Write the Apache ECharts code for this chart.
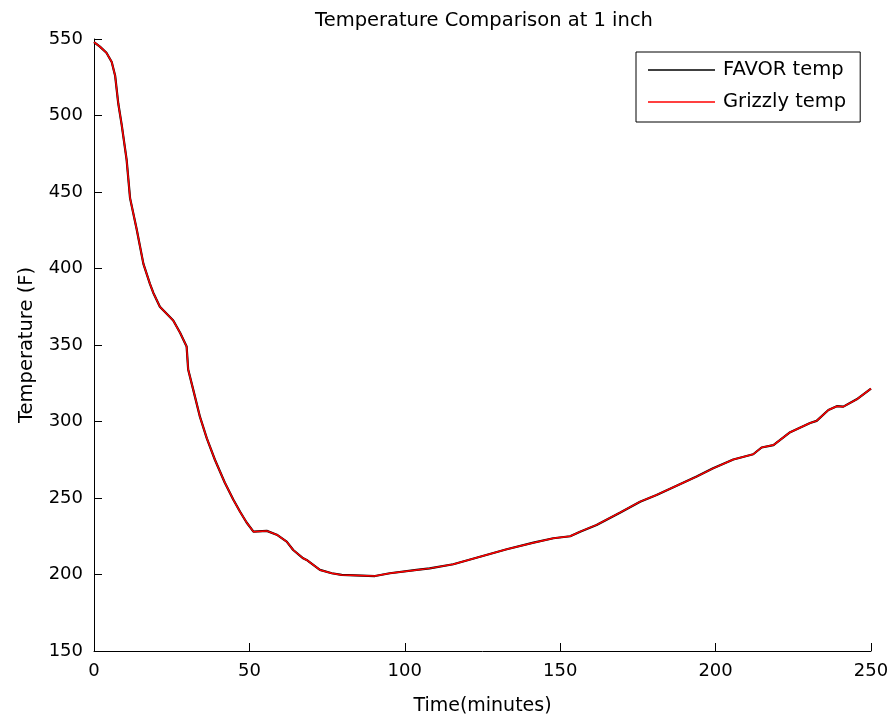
<!DOCTYPE html>
<html lang="en">
<head>
    <meta charset="utf-8"/>
    <title>Temperature Comparison at 1 inch</title>
    <script src="https://cdn.jsdelivr.net/npm/echarts@6/dist/echarts.min.js"></script>
    <style>
        html, body { margin: 0; padding: 0; background: #fff; }
        #main { width: 890px; height: 719px; }
    </style>
</head>
<body>
<div id="main"></div>
<script>
    // time in minutes
    var timeMin = [0, 1.9, 4, 5.7, 6.8, 7.8, 8.9, 10.5, 11.6, 13.7, 15.9, 18, 19.1, 21.2, 25.5, 27.7,
        29.8, 30.3, 31.9, 34.1, 36.3, 38.9, 42.1, 44.8, 47, 49.1, 51.3, 55.6, 58.8, 62, 64.1, 67.3,
        68.4, 72.7, 76.5, 79.7, 90.4, 95.2, 103.8, 108, 115.6, 124.2, 132.8, 141.4, 147.8, 153.2,
        156.4, 161.7, 169.2, 175.7, 181, 188.5, 193.9, 199.2, 205.7, 212.1, 214.8, 218.6, 224,
        230.4, 232.5, 236.3, 239, 241.1, 245.4, 250];
    var favorTemp = [548, 545, 541, 535, 526, 508, 494, 471, 446, 426, 403, 390, 384, 375, 366, 358,
        349, 334, 321, 303, 289, 275, 260, 249, 241, 234, 228, 228.5, 226, 221.5, 216, 210.6,
        209.5, 203, 200.8, 199.7, 199, 200.8, 203, 204, 206.7, 211.6, 216.5, 220.8, 223.7, 225,
        228, 232.4, 240.4, 247.6, 252, 259, 264, 269.4, 275.2, 278.6, 283, 284.6, 293,
        299, 300.4, 307.5, 310, 309.7, 314.5, 321.5];
    var grizzlyTemp = [548, 545, 541, 535, 526, 508, 494, 471, 446, 426, 403, 390, 384, 375, 366, 358,
        349, 334, 321, 303, 289, 275, 260, 249, 241, 234, 228, 228.5, 226, 221.5, 216, 210.6,
        209.5, 203, 200.8, 199.7, 199, 200.8, 203, 204, 206.7, 211.6, 216.5, 220.8, 223.7, 225,
        228, 232.4, 240.4, 247.6, 252, 259, 264, 269.4, 275.2, 278.6, 283, 284.6, 293,
        299, 300.4, 307.5, 310, 309.7, 314.5, 321.5];

    function pairs(xs, ys) {
        var out = [];
        for (var i = 0; i < xs.length; i++) out.push([xs[i], ys[i]]);
        return out;
    }

    var font = 'DejaVu Sans';
    var myChart = echarts.init(document.getElementById('main'));
    var option = {
        animation: false,
        backgroundColor: '#fff',
        title: {
            text: 'Temperature Comparison at 1 inch',
            left: 479,
            textAlign: 'center',
            top: 6,
            textStyle: {fontFamily: font, fontSize: 19.5, fontWeight: 'normal', color: '#000'}
        },
        legend: {
            orient: 'vertical',
            left: 636,
            top: 52,
            padding: [8, 14, 10, 12],
            icon: 'rect',
            itemWidth: 67,
            itemHeight: 1.5,
            itemGap: 12,
            borderColor: '#000',
            borderWidth: 1,
            textStyle: {fontFamily: font, fontSize: 19.5, color: '#000', lineHeight: 20, padding: [0, 0, 0, 3]},
            data: ['FAVOR temp', 'Grizzly temp']
        },
        grid: {left: 94, right: 19, top: 39, bottom: 68, outerBoundsMode: 'none'},
        xAxis: {
            type: 'value',
            min: 0,
            max: 250,
            interval: 50,
            name: 'Time(minutes)',
            nameLocation: 'middle',
            nameGap: 46,
            nameTextStyle: {fontFamily: font, fontSize: 19, color: '#000'},
            axisLine: {lineStyle: {color: '#000', width: 1}},
            axisTick: {inside: true, length: 8, lineStyle: {color: '#000'}},
            axisLabel: {fontFamily: font, fontSize: 18, color: '#000', margin: 11},
            splitLine: {show: false}
        },
        yAxis: {
            type: 'value',
            min: 150,
            max: 550,
            interval: 50,
            name: 'Temperature (F)',
            nameLocation: 'middle',
            nameGap: 57,
            nameTextStyle: {fontFamily: font, fontSize: 19.5, color: '#000'},
            axisLine: {show: true, lineStyle: {color: '#000', width: 1}},
            axisTick: {show: true, inside: true, length: 8, lineStyle: {color: '#000'}},
            axisLabel: {fontFamily: font, fontSize: 18, color: '#000', margin: 11},
            splitLine: {show: false}
        },
        series: [
            {
                name: 'FAVOR temp',
                type: 'line',
                data: pairs(timeMin, favorTemp),
                symbol: 'none',
                color: '#000',
                lineStyle: {color: '#000', width: 2.2}
            },
            {
                name: 'Grizzly temp',
                type: 'line',
                data: pairs(timeMin, grizzlyTemp),
                symbol: 'none',
                color: '#ff0000',
                lineStyle: {color: '#ff0000', width: 1.5}
            }
        ]
    };
    myChart.setOption(option);
</script>
</body>
</html>
